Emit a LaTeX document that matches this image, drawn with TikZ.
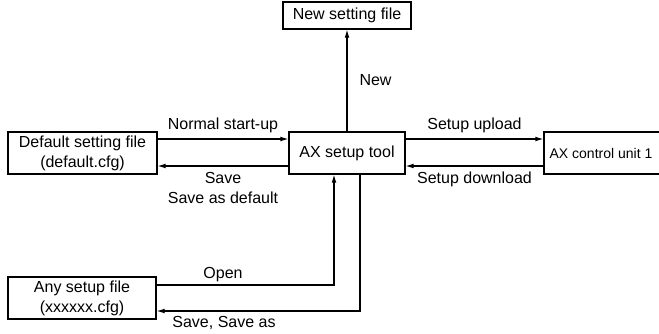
\documentclass[tikz,border=0pt]{standalone}
\usepackage{fontspec}
\setmainfont{Liberation Sans}
\usetikzlibrary{arrows.meta}
\begin{document}
\begin{tikzpicture}[x=0.75pt,y=-0.75pt,
  box/.style={draw,line width=0.8pt,inner sep=0pt,align=center,font=\fontsize{12}{15}\selectfont},
  lbl/.style={inner sep=0pt,font=\fontsize{12}{15}\selectfont,align=center},
  conn/.style={line width=0.8pt,-{Latex[length=6pt,width=3.5pt]}},
  line/.style={line width=0.8pt}]
\useasboundingbox (0,0) rectangle (659,334);
\node[box,minimum width=128*0.75pt,minimum height=27*0.75pt] (new) at (347,15.5) {New setting file};
\node[box,minimum width=116*0.75pt,minimum height=42*0.75pt] (ax) at (347,153) {AX setup tool};
\node[box,minimum width=149*0.75pt,minimum height=42*0.75pt] (def) at (82.5,153) {Default setting file\\(default.cfg)};
\node[box,minimum width=148*0.75pt,minimum height=42*0.75pt] (any) at (82,298) {Any setup file\\(xxxxxx.cfg)};
\node[box,minimum width=118*0.75pt,minimum height=42*0.75pt,font=\fontsize{10.5}{13}\selectfont] (cu) at (603,153) {\hspace*{-3pt}AX control unit 1};
% connectors
\draw[conn] (ax.north) -- (new.south) node[lbl,pos=0.5,right=9pt] (tnew) {New};
\draw[conn] (def.east|-0,139) -- (ax.west|-0,139) node[lbl,midway,above=4pt] (tns) {Normal start-up};
\draw[conn] (ax.west|-0,166) -- (def.east|-0,166) node[lbl,midway,below=4pt] (tsave) {Save\\Save as default};
\draw[conn] (ax.east|-0,139) -- (cu.west|-0,139) node[lbl,midway,above=4pt] (tup) {Setup upload};
\draw[conn] (cu.west|-0,166) -- (ax.east|-0,166) node[lbl,midway,below=4pt] (tdown) {Setup download};
\coordinate (oc) at (334,285);
\coordinate (sc) at (360,311);
\draw[conn] (any.east|-oc) -- (oc) -- (ax.south-|oc);
\node[lbl,above=2pt] (topen) at (223,285) {Open};
\draw[conn] (ax.south-|sc) -- (sc) -- (any.east|-sc);
\node[lbl,below=4pt] (tsa) at (224,311) {Save, Save as};
\end{tikzpicture}
\end{document}
